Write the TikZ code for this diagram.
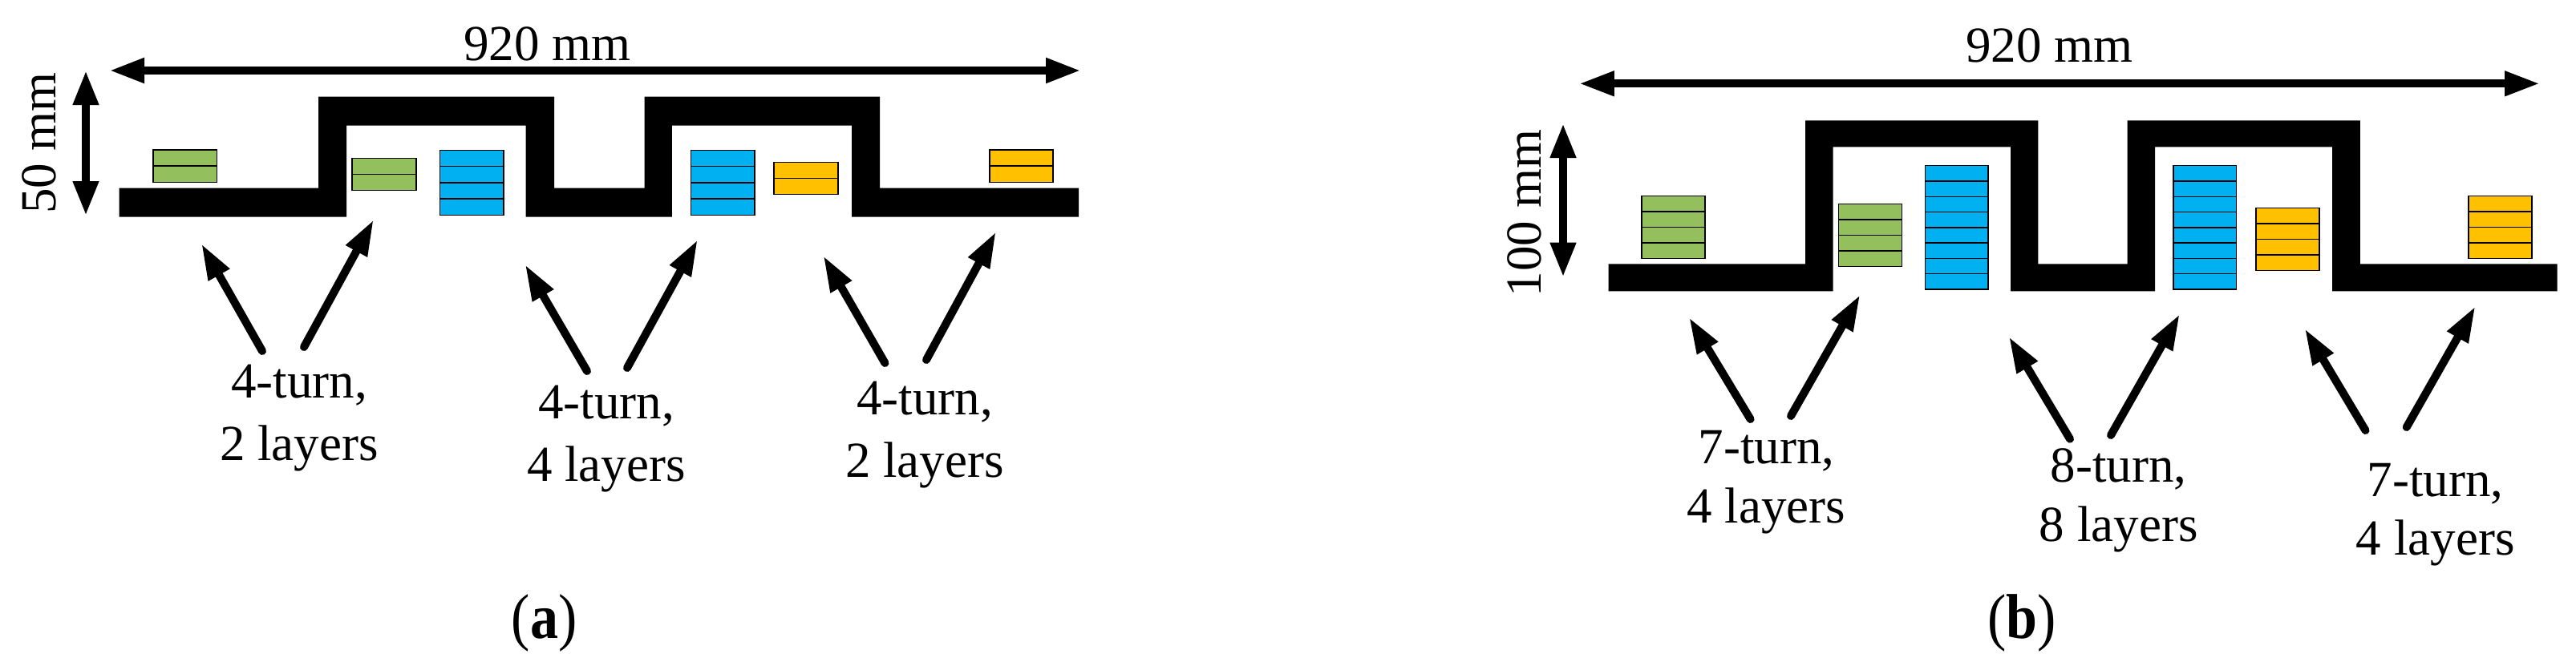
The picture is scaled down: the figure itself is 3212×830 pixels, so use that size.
\documentclass[tikz,border=0pt]{standalone}
\usepackage{graphicx}
\usepackage{fontspec}
\setmainfont{Liberation Serif}
\usetikzlibrary{arrows.meta}
\definecolor{coilgreen}{RGB}{147,192,92}
\definecolor{coilblue}{RGB}{0,176,240}
\definecolor{coilyellow}{RGB}{255,192,0}
\tikzset{
  bus/.style={fill=black},
  layer/.style={draw=black,line width=0.75pt},
  dimarrow/.style={line width=5.25pt,{Triangle[length=22pt,width=14.5pt]}-{Triangle[length=22pt,width=14.5pt]}},
  heightarrow/.style={line width=5pt,{Triangle[length=21.5pt,width=15pt]}-{Triangle[length=21.5pt,width=15pt]}},
  pointer/.style={line width=5pt,line cap=round,-{Triangle[length=22.5pt,width=14pt]}},
  dimtext/.style={font=\fontsize{31.5}{39}\selectfont,inner sep=0pt,anchor=base},
  labela/.style={font=\fontsize{31.5}{39}\selectfont,align=center,inner sep=0pt,anchor=base},
  labelb/.style={font=\fontsize{31.5}{36.8}\selectfont,align=center,inner sep=0pt,anchor=base},
  caption/.style={font=\fontsize{35}{40}\selectfont,inner sep=0pt,anchor=base}
}
% x0 x1 y0 y1 colour layers
\newcommand{\coilstack}[6]{%
  \pgfmathsetmacro{\coilstep}{(#4-#3)/#6}%
  \foreach \i in {1,...,#6}{%
    \pgfmathsetmacro{\coilA}{#3+(\i-1)*\coilstep}%
    \pgfmathsetmacro{\coilB}{#3+\i*\coilstep}%
    \path[layer,fill=#5] (#1,\coilA) rectangle (#2,\coilB);
  }%
}
% name, tail, tip
\newcommand{\pointerarrow}[3]{%
  \coordinate (#1t) at #2;
  \coordinate (#1h) at #3;
  \draw[pointer] (#1t) -- (#1h);
}
\begin{document}
\begin{tikzpicture}[x=0.5pt,y=-0.5pt]
\fill[white] (0,0) rectangle (3212,830);
\useasboundingbox (0,0) rectangle (3212,830);
%% ---------- panel a
\coordinate (aL) at (136,88); \coordinate (aR) at (1348,88);
\draw[dimarrow] (aL) -- (aR);
\node[dimtext] (wa) at (682.5,75) {920 mm};
\coordinate (aU) at (107,88); \coordinate (aD) at (107,269);
\draw[heightarrow] (aU) -- (aD);
\node[dimtext,rotate=90] (ha) at (69,178.5) {50 mm};
\fill[bus] (148.5,234.7) -- (397,234.7) -- (397,120.7) -- (691,120.7) -- (691,234.7) -- (803.6,234.7) -- (803.6,120.7) -- (1097,120.7) -- (1097,234.7) -- (1345,234.7) -- (1345,270.7) -- (1062,270.7) -- (1062,156.7) -- (837.8,156.7) -- (837.8,270.7) -- (655.6,270.7) -- (655.6,156.7) -- (432,156.7) -- (432,270.7) -- (148.5,270.7) -- cycle;
\coilstack{191}{270.5}{187}{227.3}{coilgreen}{2}
\coilstack{439}{519}{197.3}{237.3}{coilgreen}{2}
\coilstack{548.5}{628}{187.3}{268.3}{coilblue}{4}
\coilstack{861.7}{941}{187.3}{268.3}{coilblue}{4}
\coilstack{965}{1045}{202.3}{242.7}{coilyellow}{2}
\coilstack{1234}{1313}{187}{227.3}{coilyellow}{2}
\pointerarrow{p1}{(327,438)}{(251,304)}
\pointerarrow{p2}{(379,433)}{(466,274)}
\pointerarrow{p3}{(732,463)}{(654.6,330)}
\pointerarrow{p4}{(782,459)}{(870,299)}
\pointerarrow{p5}{(1103.5,453)}{(1026.5,319)}
\pointerarrow{p6}{(1155,449)}{(1242,289)}
\node[labela] (la1) at (373,574) {4-turn,\\2 layers};
\node[labela] (la2) at (756,600) {4-turn,\\4 layers};
\node[labela] (la3) at (1153,595) {4-turn,\\2 layers};
\node[caption] (capa) at (678.6,796.7) {\scalebox{1}[1.13]{(\textbf{a})}};
%% ---------- panel b
\coordinate (bL) at (1968.8,104.3); \coordinate (bR) at (3167,104.3);
\draw[dimarrow,line width=5pt] (bL) -- (bR);
\node[dimtext] (wb) at (2555.5,77.7) {920 mm};
\coordinate (bU) at (1949,154); \coordinate (bD) at (1949,345.7);
\draw[heightarrow] (bU) -- (bD);
\node[dimtext,rotate=90] (hb) at (1921,266) {100 mm};
\fill[bus] (2005.7,329.3) -- (2251,329.3) -- (2251,150.3) -- (2541.4,150.3) -- (2541.4,329.3) -- (2652.7,329.3) -- (2652.7,150.3) -- (2942.8,150.3) -- (2942.8,329.3) -- (3188.7,329.3) -- (3188.7,363.3) -- (2908,363.3) -- (2908,183.3) -- (2687,183.3) -- (2687,363.3) -- (2507,363.3) -- (2507,183.3) -- (2285.5,183.3) -- (2285.5,363.3) -- (2005.7,363.3) -- cycle;
\coilstack{2046.8}{2126.2}{244.3}{322.7}{coilgreen}{4}
\coilstack{2292.7}{2371.6}{254.3}{332.3}{coilgreen}{4}
\coilstack{2400.3}{2479.2}{206.7}{361}{coilblue}{8}
\coilstack{2710}{2788.7}{206.7}{361}{coilblue}{8}
\coilstack{2813}{2892}{259.3}{337.3}{coilyellow}{4}
\coilstack{3078}{3157}{244.3}{322.7}{coilyellow}{4}
\pointerarrow{q1}{(2182.6,523)}{(2106,396)}
\pointerarrow{q2}{(2233,519)}{(2319.4,367.7)}
\pointerarrow{q3}{(2581,547.7)}{(2504.8,420)}
\pointerarrow{q4}{(2632,543)}{(2718,391.7)}
\pointerarrow{q5}{(2949.5,537)}{(2873.7,410)}
\pointerarrow{q6}{(3000.7,533)}{(3086.6,382)}
\node[labelb] (lb1) at (2202.5,652.3) {7-turn,\\4 layers};
\node[labelb] (lb2) at (2641.8,675.3) {8-turn,\\8 layers};
\node[labelb] (lb3) at (3036.7,692.7) {7-turn,\\4 layers};
\node[caption] (capb) at (2520.9,796.7) {\scalebox{1}[1.13]{(\textbf{b})}};
\end{tikzpicture}
\end{document}
